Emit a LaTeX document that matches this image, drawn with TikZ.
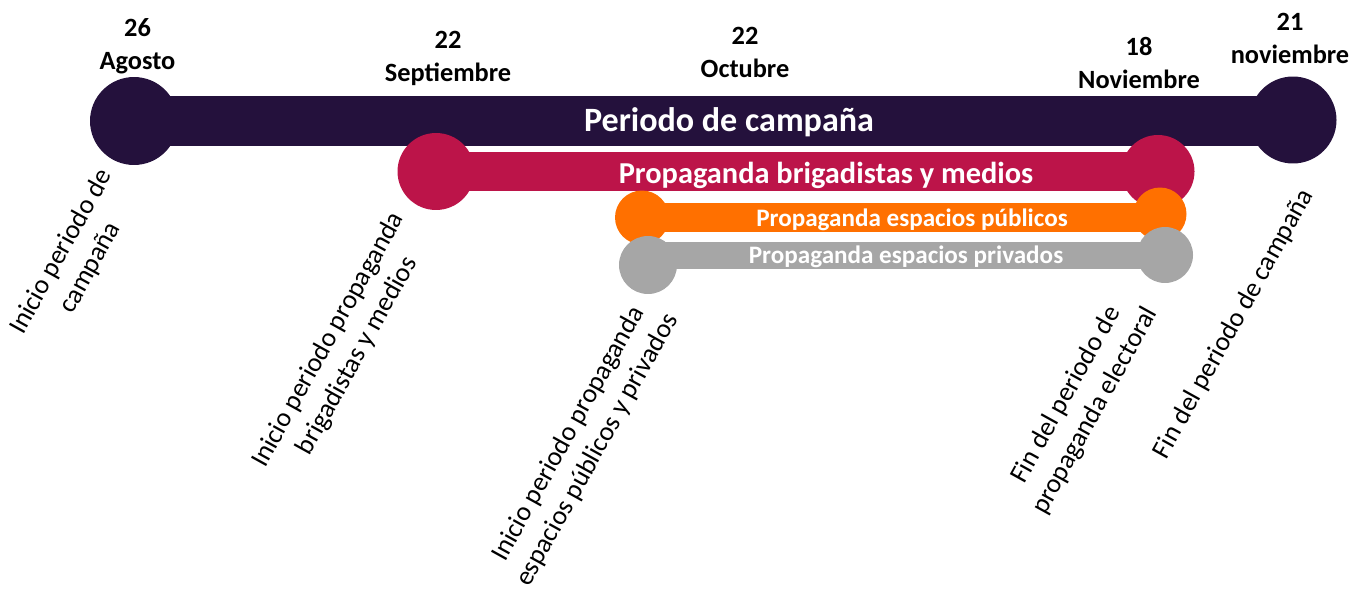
\documentclass[tikz,border=0pt]{standalone}
\usepackage{fontspec}
\setmainfont{Carlito}
\definecolor{campcol}{RGB}{36,17,60}
\definecolor{brigcol}{RGB}{188,20,73}
\definecolor{pubcol}{RGB}{255,112,0}
\definecolor{privcol}{RGB}{166,166,166}
\begin{document}
\begin{tikzpicture}[x=0.02cm,y=-0.02cm,
	dot/.style={circle,inner sep=0pt,minimum size=#1},
	barlabel/.style={text=white,anchor=base,inner sep=0pt},
	datelabel/.style={align=center,font=\fontsize{15}{18.8}\selectfont\bfseries},
	notelabel/.style={align=center,rotate=61,font=\fontsize{15.3}{18.8}\selectfont}]

\useasboundingbox (0,0) rectangle (1354,588);

\node[dot=1.76cm,fill=campcol] (campS) at (134,121) {};
\node[dot=1.74cm,fill=campcol] (campE) at (1293,120) {};
\draw[campcol,line width=1.02cm] (campS.center) -- (campS.center -| campE.center);
\node[barlabel,font=\fontsize{19.4}{23}\selectfont\bfseries] (camptext) at (729,132) {Periodo de campaña};

\node[dot=1.54cm,fill=brigcol] (brigS) at (436,171.5) {};
\node[dot=1.46cm,fill=brigcol] (brigE) at (1158,171.5) {};
\draw[brigcol,line width=0.78cm] (brigS.center) -- (brigE.center);
\node[barlabel,font=\fontsize{17.3}{21}\selectfont\bfseries] (brigtext) at (826,183) {Propaganda brigadistas y medios};

\node[dot=1.08cm,fill=pubcol] (pubS) at (642,217.5) {};
\node[dot=1.06cm,fill=pubcol] (pubE) at (1160,214) {};
\draw[pubcol,line width=0.58cm] (pubS.center) -- (pubS.center -| pubE.center);
\node[barlabel,font=\fontsize{14.3}{17}\selectfont\bfseries] (pubtext) at (912,226) {Propaganda espacios públicos};

\node[dot=1.16cm,fill=privcol] (privS) at (648,265) {};
\node[dot=1.12cm,fill=privcol] (privE) at (1165,255) {};
\draw[privcol,line width=0.54cm] (privS.center |- privE.center) -- (privE.center);
\node[barlabel,font=\fontsize{14.3}{17}\selectfont\bfseries] (privtext) at (906,263.5) {Propaganda espacios privados};

\node[datelabel] (d1) at (137.5,46.5) {26\\Agosto};
\node[datelabel] (d2) at (448,58.5) {22\\Septiembre};
\node[datelabel] (d3) at (745,52.5) {22\\Octubre};
\node[datelabel] (d4) at (1139,63) {18\\Noviembre};
\node[datelabel] (d5) at (1290,38) {21\\noviembre};

\node[notelabel] (n1) at (76,260) {Inicio periodo de\\campaña};
\node[notelabel] (n2) at (343,348) {Inicio periodo propaganda\\brigadistas y medios};
\node[notelabel] (n3) at (583,442) {Inicio periodo propaganda\\espacios públicos y privados};
\node[notelabel] (n4) at (1081,403) {Fin del periodo de\\propaganda electoral};
\node[notelabel] (n5) at (1234,324) {Fin del periodo de campaña};

\end{tikzpicture}
\end{document}
